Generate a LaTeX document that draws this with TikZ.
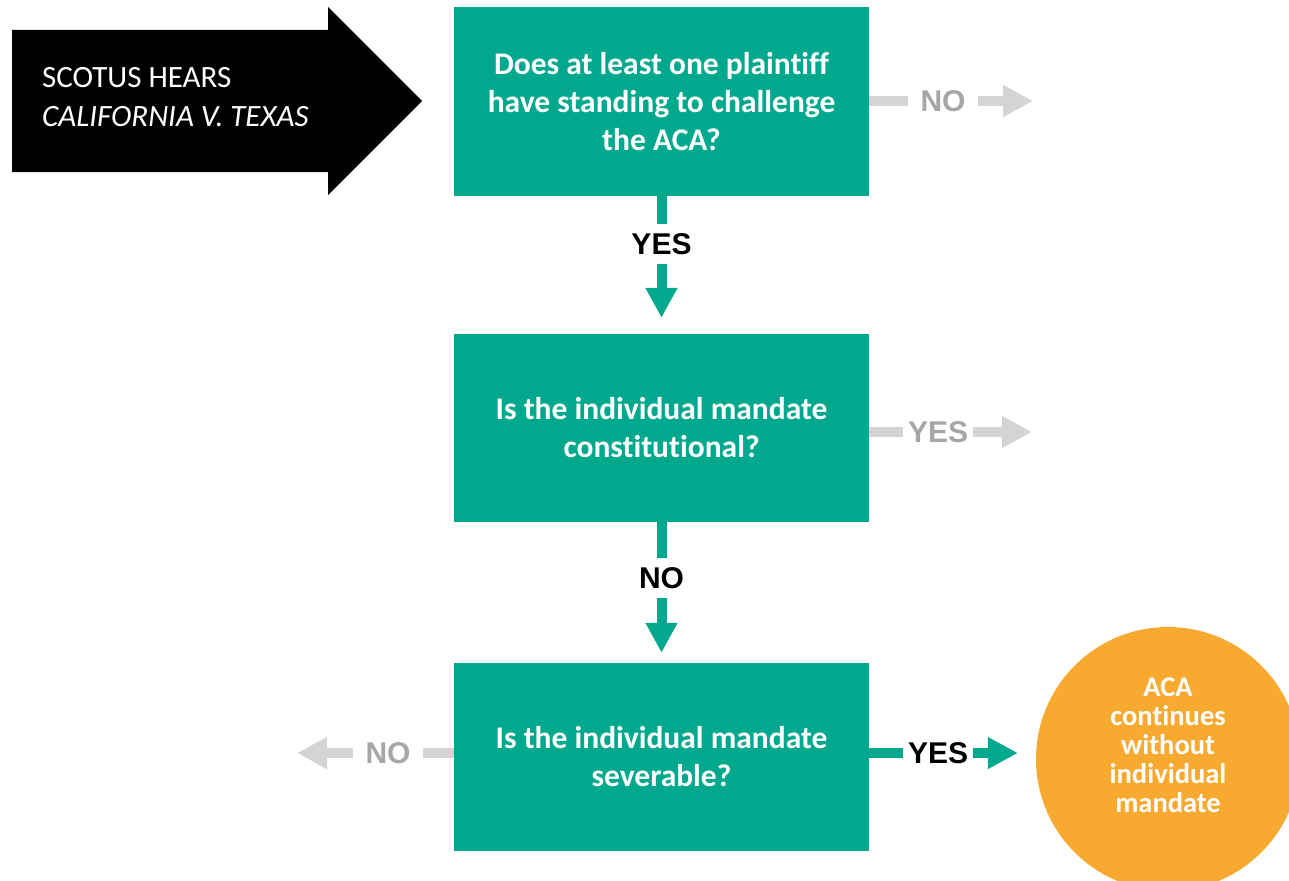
\documentclass[tikz,border=0pt]{standalone}
\usepackage{fontspec}
\setmainfont[RawFeature={-liga}]{Carlito}
\newfontfamily\arialfont{Liberation Sans}
\usetikzlibrary{arrows.meta}
\definecolor{acateal}{HTML}{00A88E}
\definecolor{acaorange}{HTML}{F8A930}
\definecolor{arrgray}{HTML}{D4D4D4}
\definecolor{txtgray}{HTML}{A6A6A6}
\begin{document}
\begin{tikzpicture}[x=1pt,y=-1pt,
  qbox/.style={fill=acateal, minimum width=415pt, minimum height=188pt, inner sep=0pt,
    text=white, align=center, font=\bfseries\fontsize{31.5}{38}\selectfont},
  lblbox/.style={inner sep=0pt, font=\arialfont\bfseries\fontsize{30}{30}\selectfont},
  vlbl/.style={lblbox, minimum height=40pt},
  hlbl/.style={lblbox, minimum width=70pt},
  tealline/.style={draw=acateal, line width=10pt},
  grayline/.style={draw=arrgray, line width=10pt},
  tiphead/.style={-{Triangle[width=30pt,length=30pt]}}
]
\useasboundingbox (0,0) rectangle (1289,880);
\clip (0,0) rectangle (1289,880);

% start arrow
\fill[black] (12,30) -- (328,30) -- (328,7) -- (422,101) -- (328,195) -- (328,172) -- (12,172) -- cycle;
\node[anchor=west, text=white, align=left, inner sep=0pt,
  font=\fontsize{31}{38.5}\selectfont] (start) at (42,97)
  {SCOTUS HEARS\\\itshape CALIFORNIA V. TEXAS};

% question boxes
\node[qbox] (b1) at (661.5,101.5) {Does at least one plaintiff\\have standing to challenge\\the ACA?};
\node[qbox] (b2) at (661.5,428) {Is the individual mandate\\constitutional?};
\node[qbox] (b3) at (661.5,757) {Is the individual mandate\\severable?};

% outcome circle
\node[circle, fill=acaorange, minimum size=264pt, inner sep=0pt] (res) at (1168,759) {};
\node[text=white, align=center, inner sep=0pt,
  font=\bfseries\fontsize{28.5}{29}\selectfont] (restxt) at (1168,745)
  {ACA\\continues\\without\\individual\\mandate};

% labels
\node[vlbl] (y1) at (661.5,244) {YES};
\node[vlbl] (n2) at (661.5,578) {NO};
\node[hlbl, text=txtgray] (n1) at (943,101) {NO};
\node[hlbl, text=txtgray] (y2) at (938,432) {YES};
\node[hlbl] (y3) at (938,753) {YES};
\node[hlbl, text=txtgray] (n3) at (388,753) {NO};

\coordinate (e1) at (1033,101);
\coordinate (e2) at (1032,432);
\coordinate (e3) at (297,753);

% connectors
\draw[tealline] (b1.south) -- (y1.north);
\draw[tealline, tiphead, shorten >=16pt] (y1.south) -- (b2.north);
\draw[tealline] (b2.south) -- (n2.north);
\draw[tealline, tiphead, shorten >=10pt] (n2.south) -- (b3.north);

\draw[grayline] (b1.east |- n1.west) -- (n1.west);
\draw[grayline, tiphead] (n1.east) -- (e1);
\draw[grayline] (b2.east |- y2.west) -- (y2.west);
\draw[grayline, tiphead] (y2.east) -- (e2);
\draw[tealline] (b3.east |- y3.west) -- (y3.west);
\draw[tealline, tiphead, shorten >=18pt] (y3.east) -- (res.west |- y3.east);
\draw[grayline] (b3.west |- n3.east) -- (n3.east);
\draw[grayline, tiphead] (n3.west) -- (e3);
\end{tikzpicture}
\end{document}
